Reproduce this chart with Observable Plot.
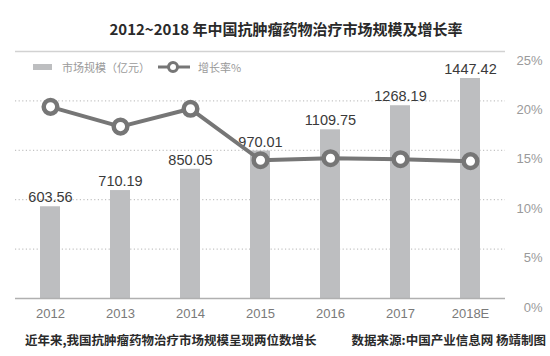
<!DOCTYPE html>
<html>
<head>
<meta charset="utf-8">
<script src="https://cdn.jsdelivr.net/npm/d3@7"></script>
<script src="https://cdn.jsdelivr.net/npm/@observablehq/plot@0.6"></script>
<style>
  html, body { margin: 0; padding: 0; background: #fff; }
  #wrap { position: relative; width: 550px; height: 356px; overflow: hidden; background: #fff; }
  #title { height: 44px; box-sizing: border-box; padding-top: 19px; padding-left: 22px; line-height: 20px; text-align: center;
           font-family: "Noto Sans CJK SC", "Liberation Sans", sans-serif; font-weight: bold; font-size: 15px; color: #2a2a2a; white-space: nowrap; }
  #chart svg { display: block; }
  #legend { position: absolute; left: 33px; top: 59px; height: 16px; display: flex; align-items: center;
            font-family: "Noto Sans CJK SC", sans-serif; font-size: 11px; color: #9a9a9a; white-space: nowrap; }
  #legend .sw { display: inline-block; width: 19px; height: 6px; background: #bdbec0; margin-right: 10px; }
  #legend svg { margin: 0 8px 0 8px; }
  #caption { height: 36px; box-sizing: border-box; padding: 12px 4px 0 25px; line-height: 16px; display: flex; justify-content: space-between;
             font-family: "Noto Sans CJK SC", sans-serif; font-weight: bold; font-size: 12.5px; color: #2a2a2a; white-space: nowrap; }
</style>
</head>
<body>
<div id="wrap">
  <div id="title">2012~2018 年中国抗肿瘤药物治疗市场规模及增长率</div>
  <div id="chart"></div>
  <div id="caption"><span>近年来,我国抗肿瘤药物治疗市场规模呈现两位数增长</span><span>数据来源:中国产业信息网&nbsp;杨靖制图</span></div>
  <div id="legend">
    <span class="sw"></span><span>市场规模（亿元）</span>
    <svg width="32" height="16" viewBox="0 0 32 16"><line x1="0" y1="8" x2="32" y2="8" stroke="#767676" stroke-width="3"/><circle cx="15" cy="8" r="4.5" fill="#fff" stroke="#767676" stroke-width="3"/></svg>
    <span>增长率%</span>
  </div>
</div>
<script>
const years = ["2012", "2013", "2014", "2015", "2016", "2017", "2018E"];
const marketSize = [603.56, 710.19, 850.05, 970.01, 1109.75, 1268.19, 1447.42];
const growthRate = [19.4, 17.4, 19.2, 14.0, 14.2, 14.1, 13.9];
const rateTicks = [0, 5, 10, 15, 20, 25];
const gridTicks = [5, 10, 15, 20];
const sizeMax = 1625;
const rateMax = 25;

const data = years.map((year, i) => ({ year, size: marketSize[i], rate: growthRate[i] }));
const sizeOnRate = d => d.size * rateMax / sizeMax;

const chart = Plot.plot({
  width: 550,
  height: 276,
  marginTop: 7,
  marginBottom: 22,
  marginLeft: 15,
  marginRight: 45,
  style: { fontFamily: "'Liberation Sans', Arial, 'Noto Sans CJK SC', sans-serif", background: "#fff" },
  x: { domain: years, paddingInner: 0.714, paddingOuter: 0.357, axis: null, label: null },
  y: { domain: [0, rateMax], axis: null, label: null },
  marks: [
    Plot.ruleY(gridTicks, { stroke: "#b5b5b5", strokeWidth: 1, strokeDasharray: "1.2,2.4" }),
    Plot.ruleY([rateMax], { stroke: "#d2d2d2", strokeWidth: 1.5 }),
    Plot.barY(data, { x: "year", y: sizeOnRate, fill: "#bdbec0" }),
    Plot.ruleY([0], { stroke: "#b0b0b0", strokeWidth: 1.5 }),
    Plot.text(data, { x: "year", y: sizeOnRate, text: d => d.size.toFixed(2), dy: -9, fontSize: 14.5, fill: "#3a3a3a" }),
    Plot.lineY(data, { x: "year", y: "rate", stroke: "#767676", strokeWidth: 4 }),
    Plot.dot(data, { x: "year", y: "rate", r: 6.8, fill: "#fff", stroke: "#767676", strokeWidth: 4.5 }),
    Plot.axisX({ label: null, tickSize: 0, tickPadding: 10, fontSize: 13, color: "#7a7a7a" }),
    Plot.axisY({ label: null, anchor: "right", ticks: rateTicks, tickFormat: d => d + "%", tickSize: 0, tickPadding: 37, textAnchor: "end", dy: 9, fontSize: 13, color: "#9a9a9a" })
  ]
});
document.getElementById("chart").appendChild(chart);
</script>
</body>
</html>
